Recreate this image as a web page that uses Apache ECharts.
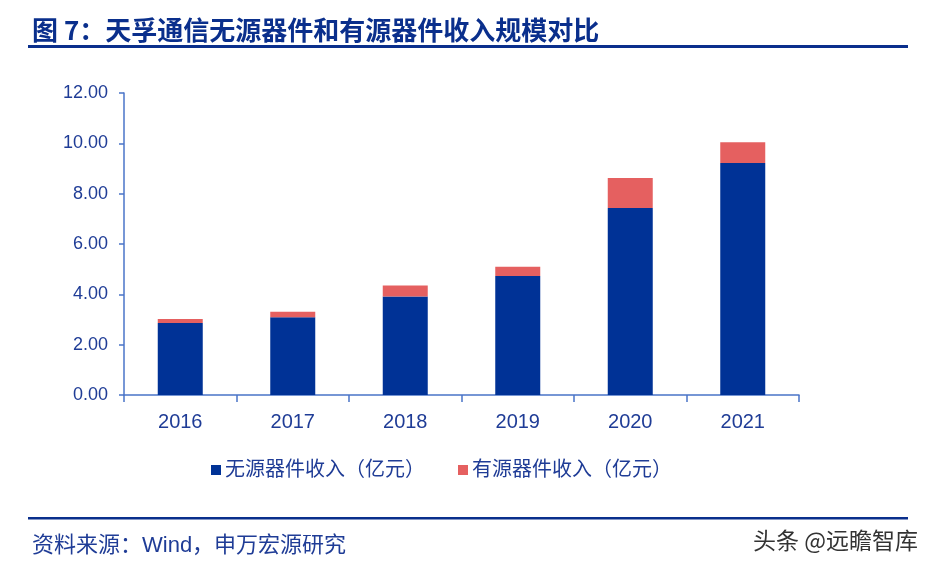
<!DOCTYPE html>
<html><head><meta charset="utf-8">
<script src="https://cdn.jsdelivr.net/npm/echarts@6/dist/echarts.min.js"></script>
<style>html,body{margin:0;padding:0;background:#fff}#c{width:940px;height:567px}</style>
</head><body><div id="c"></div>
<script>
const categories = ['2016','2017','2018','2019','2020','2021'];
const passiveRevenue = [2.86, 3.09, 3.91, 4.73, 7.43, 9.22];
const activeRevenue = [0.16, 0.22, 0.44, 0.37, 1.19, 0.82];
const seriesNames = ['无源器件收入（亿元）', '有源器件收入（亿元）'];

const FONT = '"Liberation Sans", "Noto Sans CJK SC", sans-serif';
const TXT = '#1f3c96';
const AX = '#4a74c8';
const chart = echarts.init(document.getElementById('c'));
chart.setOption({
  backgroundColor: '#fff',
  animation: false,
  textStyle: { fontFamily: FONT },
  title: [
    { text: '图 7：天孚通信无源器件和有源器件收入规模对比', left: 27, top: 12,
      textStyle: { fontFamily: '"Noto Sans CJK SC", sans-serif', fontSize: 26, fontWeight: 'bold', color: '#0a2f8c' } },
    { text: '资料来源：Wind，申万宏源研究', left: 27, top: 530,
      textStyle: { fontFamily: FONT, fontSize: 22, fontWeight: 'normal', color: '#1f3c96' } },
    { text: '头条 @远瞻智库', right: 17, top: 524,
      textStyle: { fontFamily: '"Noto Sans CJK SC", sans-serif', fontSize: 23, fontWeight: 'normal', color: '#333' } }
  ],
  graphic: [
    { type: 'rect', shape: { x: 28, y: 45, width: 880, height: 3 }, style: { fill: '#0a2f8c' } },
    { type: 'rect', shape: { x: 28, y: 517, width: 880, height: 2.5 }, style: { fill: '#0a2f8c' } }
  ],
  legend: {
    left: 206, top: 455, itemWidth: 10, itemHeight: 10, itemGap: 33,
    icon: 'rect',
    textStyle: { fontFamily: FONT, fontSize: 20, color: TXT, padding: [0, 0, 0, -1] },
    data: seriesNames
  },
  grid: { left: 124, right: 141, top: 93, bottom: 172 },
  xAxis: {
    type: 'category', data: categories,
    axisLine: { lineStyle: { color: AX, width: 1.5 } },
    axisTick: { show: true, inside: false, length: 7, lineStyle: { color: AX, width: 1.5 } },
    axisLabel: { fontSize: 20, color: TXT, margin: 17, fontFamily: FONT }
  },
  yAxis: {
    type: 'value', min: 0, max: 12, interval: 2,
    axisLine: { show: true, lineStyle: { color: AX, width: 1.5 } },
    axisTick: { show: true, length: 5, lineStyle: { color: AX, width: 1.5 } },
    splitLine: { show: false },
    axisLabel: { fontSize: 18, color: TXT, margin: 16, fontFamily: FONT, formatter: v => v.toFixed(2) }
  },
  series: [
    { name: seriesNames[0], type: 'bar', stack: 'a', data: passiveRevenue, barWidth: '40%',
      itemStyle: { color: '#003296' } },
    { name: seriesNames[1], type: 'bar', stack: 'a', data: activeRevenue, barWidth: '40%',
      itemStyle: { color: '#e56060' } }
  ]
});
</script></body></html>
